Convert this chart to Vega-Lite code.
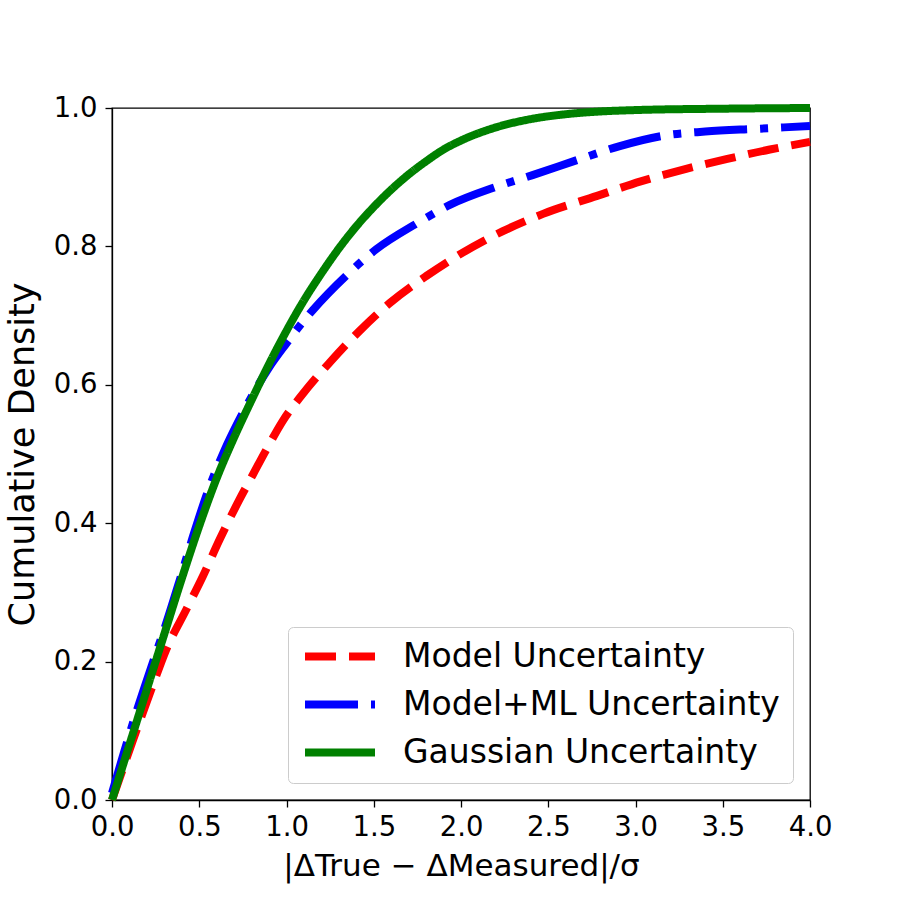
{
  "$schema": "https://vega.github.io/schema/vega-lite/v6.json",
  "autosize": "none",
  "width": 698,
  "height": 692,
  "padding": {"left": 112, "top": 108, "right": 90, "bottom": 100},
  "background": "white",
  "config": {
    "font": "DejaVu Sans",
    "view": {"stroke": "black", "strokeWidth": 1.3},
    "axis": {
      "grid": false,
      "domainColor": "black",
      "domainWidth": 1.3,
      "tickColor": "black",
      "tickWidth": 1.3,
      "tickSize": 7,
      "labelFont": "DejaVu Sans",
      "labelFontSize": 27.5,
      "labelColor": "black",
      "titleFont": "DejaVu Sans",
      "titleFontWeight": "normal",
      "titleColor": "black"
    },
    "legend": {
      "labelFont": "DejaVu Sans",
      "labelFontSize": 33,
      "labelColor": "black",
      "labelLimit": 0
    }
  },
  "data": {
    "values": [
      {"series": "Model Uncertainty", "x": 0.0, "y": 0.0},
      {"series": "Model Uncertainty", "x": 0.118, "y": 0.085},
      {"series": "Model Uncertainty", "x": 0.224, "y": 0.159},
      {"series": "Model Uncertainty", "x": 0.31, "y": 0.217},
      {"series": "Model Uncertainty", "x": 0.425, "y": 0.275},
      {"series": "Model Uncertainty", "x": 0.52, "y": 0.323},
      {"series": "Model Uncertainty", "x": 0.616, "y": 0.376},
      {"series": "Model Uncertainty", "x": 0.73, "y": 0.434},
      {"series": "Model Uncertainty", "x": 0.807, "y": 0.47},
      {"series": "Model Uncertainty", "x": 0.884, "y": 0.506},
      {"series": "Model Uncertainty", "x": 0.979, "y": 0.548},
      {"series": "Model Uncertainty", "x": 1.094, "y": 0.587},
      {"series": "Model Uncertainty", "x": 1.247, "y": 0.632},
      {"series": "Model Uncertainty", "x": 1.419, "y": 0.678},
      {"series": "Model Uncertainty", "x": 1.591, "y": 0.718},
      {"series": "Model Uncertainty", "x": 1.8, "y": 0.757},
      {"series": "Model Uncertainty", "x": 2.01, "y": 0.791},
      {"series": "Model Uncertainty", "x": 2.24, "y": 0.822},
      {"series": "Model Uncertainty", "x": 2.47, "y": 0.847},
      {"series": "Model Uncertainty", "x": 2.78, "y": 0.873},
      {"series": "Model Uncertainty", "x": 3.03, "y": 0.894},
      {"series": "Model Uncertainty", "x": 3.29, "y": 0.912},
      {"series": "Model Uncertainty", "x": 3.52, "y": 0.926},
      {"series": "Model Uncertainty", "x": 3.77, "y": 0.94},
      {"series": "Model Uncertainty", "x": 4.0, "y": 0.951},
      {"series": "Model+ML Uncertainty", "x": 0.0, "y": 0.01},
      {"series": "Model+ML Uncertainty", "x": 0.07, "y": 0.07},
      {"series": "Model+ML Uncertainty", "x": 0.137, "y": 0.125},
      {"series": "Model+ML Uncertainty", "x": 0.233, "y": 0.198},
      {"series": "Model+ML Uncertainty", "x": 0.31, "y": 0.255},
      {"series": "Model+ML Uncertainty", "x": 0.386, "y": 0.316},
      {"series": "Model+ML Uncertainty", "x": 0.463, "y": 0.38},
      {"series": "Model+ML Uncertainty", "x": 0.558, "y": 0.452},
      {"series": "Model+ML Uncertainty", "x": 0.644, "y": 0.505},
      {"series": "Model+ML Uncertainty", "x": 0.72, "y": 0.545},
      {"series": "Model+ML Uncertainty", "x": 0.8, "y": 0.583},
      {"series": "Model+ML Uncertainty", "x": 0.9, "y": 0.625},
      {"series": "Model+ML Uncertainty", "x": 1.0, "y": 0.66},
      {"series": "Model+ML Uncertainty", "x": 1.075, "y": 0.685},
      {"series": "Model+ML Uncertainty", "x": 1.151, "y": 0.708},
      {"series": "Model+ML Uncertainty", "x": 1.343, "y": 0.758},
      {"series": "Model+ML Uncertainty", "x": 1.515, "y": 0.796},
      {"series": "Model+ML Uncertainty", "x": 1.745, "y": 0.833},
      {"series": "Model+ML Uncertainty", "x": 1.936, "y": 0.86},
      {"series": "Model+ML Uncertainty", "x": 2.2, "y": 0.886},
      {"series": "Model+ML Uncertainty", "x": 2.41, "y": 0.903},
      {"series": "Model+ML Uncertainty", "x": 2.68, "y": 0.926},
      {"series": "Model+ML Uncertainty", "x": 2.91, "y": 0.945},
      {"series": "Model+ML Uncertainty", "x": 3.16, "y": 0.96},
      {"series": "Model+ML Uncertainty", "x": 3.4, "y": 0.966},
      {"series": "Model+ML Uncertainty", "x": 3.7, "y": 0.97},
      {"series": "Model+ML Uncertainty", "x": 4.0, "y": 0.974},
      {"series": "Gaussian Uncertainty", "x": 0.0, "y": 0.0},
      {"series": "Gaussian Uncertainty", "x": 0.1, "y": 0.08},
      {"series": "Gaussian Uncertainty", "x": 0.2, "y": 0.16},
      {"series": "Gaussian Uncertainty", "x": 0.3, "y": 0.24},
      {"series": "Gaussian Uncertainty", "x": 0.4, "y": 0.32},
      {"series": "Gaussian Uncertainty", "x": 0.5, "y": 0.396},
      {"series": "Gaussian Uncertainty", "x": 0.6, "y": 0.465},
      {"series": "Gaussian Uncertainty", "x": 0.7, "y": 0.524},
      {"series": "Gaussian Uncertainty", "x": 0.8, "y": 0.578},
      {"series": "Gaussian Uncertainty", "x": 0.9, "y": 0.63},
      {"series": "Gaussian Uncertainty", "x": 1.0, "y": 0.678},
      {"series": "Gaussian Uncertainty", "x": 1.1, "y": 0.722},
      {"series": "Gaussian Uncertainty", "x": 1.2, "y": 0.761},
      {"series": "Gaussian Uncertainty", "x": 1.3, "y": 0.797},
      {"series": "Gaussian Uncertainty", "x": 1.4, "y": 0.829},
      {"series": "Gaussian Uncertainty", "x": 1.5, "y": 0.857},
      {"series": "Gaussian Uncertainty", "x": 1.6, "y": 0.882},
      {"series": "Gaussian Uncertainty", "x": 1.7, "y": 0.904},
      {"series": "Gaussian Uncertainty", "x": 1.8, "y": 0.923},
      {"series": "Gaussian Uncertainty", "x": 1.9, "y": 0.94},
      {"series": "Gaussian Uncertainty", "x": 2.0, "y": 0.953},
      {"series": "Gaussian Uncertainty", "x": 2.2, "y": 0.972},
      {"series": "Gaussian Uncertainty", "x": 2.4, "y": 0.984},
      {"series": "Gaussian Uncertainty", "x": 2.6, "y": 0.991},
      {"series": "Gaussian Uncertainty", "x": 2.8, "y": 0.995},
      {"series": "Gaussian Uncertainty", "x": 3.0, "y": 0.997},
      {"series": "Gaussian Uncertainty", "x": 3.5, "y": 0.999},
      {"series": "Gaussian Uncertainty", "x": 4.0, "y": 1.0}
    ]
  },
  "encoding": {
    "x": {
      "field": "x", "type": "quantitative",
      "scale": {"domain": [0, 4], "nice": false, "zero": false},
      "axis": {"values": [0, 0.5, 1, 1.5, 2, 2.5, 3, 3.5, 4], "format": ".1f", "labelPadding": 6, "titlePadding": 11,
               "titleFontSize": 31, "title": "|ΔTrue − ΔMeasured|/σ", "labelFlush": false}
    },
    "y": {
      "field": "y", "type": "quantitative",
      "scale": {"domain": [0, 1], "nice": false},
      "axis": {"values": [0, 0.2, 0.4, 0.6, 0.8, 1.0], "format": ".1f", "labelPadding": 8, "titlePadding": 13,
               "titleFontSize": 35, "title": "Cumulative Density", "labelFlush": false}
    },
    "color": {
      "field": "series", "type": "nominal",
      "scale": {"domain": ["Model Uncertainty", "Model+ML Uncertainty", "Gaussian Uncertainty"], "range": ["#ff0000", "#0000ff", "#008000"]},
      "legend": {
        "title": null, "orient": "bottom-right", "offset": 17,
        "symbolType": "stroke", "symbolSize": 4900, "symbolStrokeWidth": 8,
        "clipHeight": 33,
        "labelOffset": 24, "rowPadding": 14, "padding": 13,
        "strokeColor": "#cccccc", "fillColor": "white", "cornerRadius": 5
      }
    },
    "strokeDash": {
      "field": "series", "type": "nominal",
      "scale": {"domain": ["Model Uncertainty", "Model+ML Uncertainty", "Gaussian Uncertainty"], "range": [[31, 13], [53, 13, 8, 13], [1, 0]]},
      "legend": null
    }
  },
  "layer": [
    {"transform": [{"filter": "datum.series === 'Model Uncertainty'"}], "mark": {"type": "line", "strokeWidth": 8, "interpolate": "monotone"}},
    {"transform": [{"filter": "datum.series === 'Model+ML Uncertainty'"}], "mark": {"type": "line", "strokeWidth": 8, "interpolate": "monotone"}},
    {"transform": [{"filter": "datum.series === 'Gaussian Uncertainty'"}], "mark": {"type": "line", "strokeWidth": 8, "interpolate": "monotone"}}
  ]
}
